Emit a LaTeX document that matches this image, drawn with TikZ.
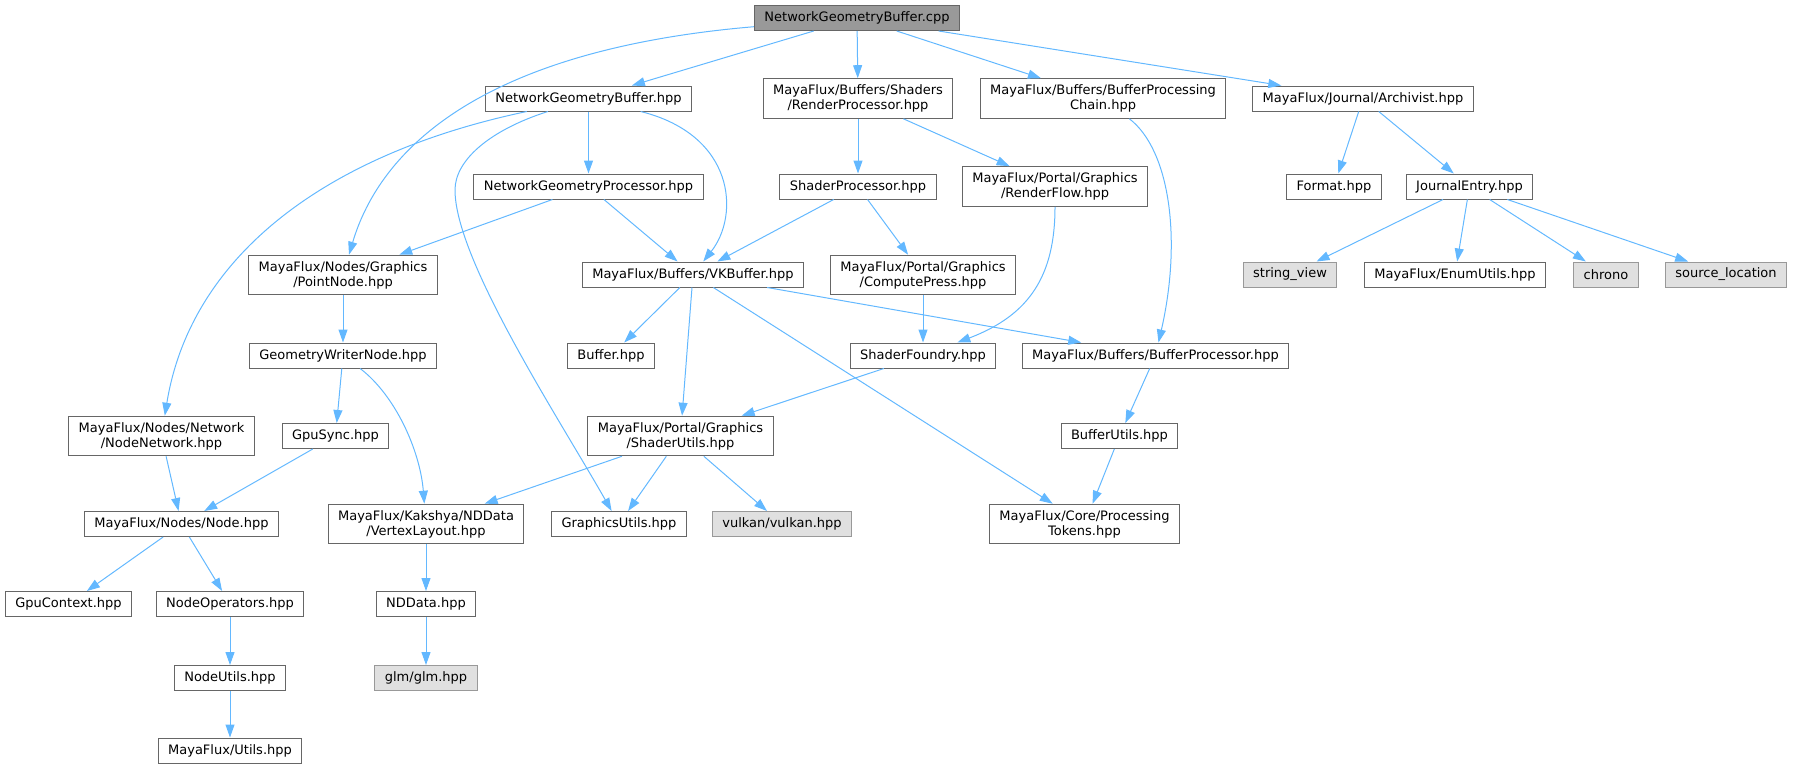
\documentclass[tikz,border=0pt]{standalone}
\usepackage{fontspec}
\setmainfont{DejaVu Sans}
\usepackage{tikz}
\usetikzlibrary{arrows.meta}
\definecolor{edgeblue}{HTML}{63B8FF}
\definecolor{boxgray}{HTML}{666666}
\definecolor{rootgray}{HTML}{999999}
\definecolor{sysgray}{HTML}{999999}
\definecolor{sysfill}{HTML}{E0E0E0}

\begin{document}
\begin{tikzpicture}[x=1pt,y=-1pt,->,>={Triangle[length=13pt,width=9pt]},
        font=\fontsize{13}{15}\selectfont,
        file/.style={rectangle,draw=boxgray,line width=1pt,fill=white,minimum height=25pt,
          inner xsep=10pt,inner ysep=6pt,align=center},
        root/.style={file,fill=rootgray},
        sys/.style={file,draw=sysgray,fill=sysfill},
        link/.style={draw=edgeblue,line width=1pt}]
		\useasboundingbox (0,0) rectangle (1793,769);
		\node [root] (1) at (857, 18) {NetworkGeometryBuffer.cpp};
		\node [file] (2) at (588.5, 98.5) {NetworkGeometryBuffer.hpp};
		\node [file] (24) at (858, 98.5) {MayaFlux/Buffers/Shaders\\/RenderProcessor.hpp};
		\node [file] (29) at (1103, 98.5) {MayaFlux/Buffers/BufferProcessing\\Chain.hpp};
		\node [file] (30) at (1363, 98.5) {MayaFlux/Journal/Archivist.hpp};
		\node [file] (3) at (588.5, 186.5) {NetworkGeometryProcessor.hpp};
		\node [file] (25) at (858, 186.5) {ShaderProcessor.hpp};
		\node [file] (28) at (1055, 186.5) {MayaFlux/Portal/Graphics\\/RenderFlow.hpp};
		\node [file] (31) at (1334, 186.5) {Format.hpp};
		\node [file] (32) at (1469.5, 186.5) {JournalEntry.hpp};
		\node [file] (4) at (343, 275) {MayaFlux/Nodes/Graphics\\/PointNode.hpp};
		\node [file] (15) at (693, 274.5) {MayaFlux/Buffers/VKBuffer.hpp};
		\node [file] (26) at (923, 275) {MayaFlux/Portal/Graphics\\/ComputePress.hpp};
		\node [sys] (33) at (1290, 274.5) {string\_view};
		\node [file] (34) at (1455, 274.5) {MayaFlux/EnumUtils.hpp};
		\node [sys] (35) at (1606, 274.5) {chrono};
		\node [sys] (36) at (1726, 274.5) {source\_location};
		\node [file] (5) at (343, 355.5) {GeometryWriterNode.hpp};
		\node [file] (16) at (611, 355.5) {Buffer.hpp};
		\node [file] (27) at (923, 355.5) {ShaderFoundry.hpp};
		\node [file] (21) at (1155.5, 355.5) {MayaFlux/Buffers/BufferProcessor.hpp};
		\node [file] (23) at (161.5, 436) {MayaFlux/Nodes/Network\\/NodeNetwork.hpp};
		\node [file] (6) at (335.5, 436) {GpuSync.hpp};
		\node [file] (17) at (680.5, 436) {MayaFlux/Portal/Graphics\\/ShaderUtils.hpp};
		\node [file] (22) at (1119.5, 436) {BufferUtils.hpp};
		\node [file] (7) at (181.5, 524) {MayaFlux/Nodes/Node.hpp};
		\node [file] (12) at (426, 524) {MayaFlux/Kakshya/NDData\\/VertexLayout.hpp};
		\node [file] (18) at (619, 524) {GraphicsUtils.hpp};
		\node [sys] (19) at (782, 524) {vulkan/vulkan.hpp};
		\node [file] (20) at (1084.5, 524) {MayaFlux/Core/Processing\\Tokens.hpp};
		\node [file] (8) at (68.5, 604) {GpuContext.hpp};
		\node [file] (9) at (230, 604) {NodeOperators.hpp};
		\node [file] (13) at (426, 604) {NDData.hpp};
		\node [file] (10) at (230, 678) {NodeUtils.hpp};
		\node [sys] (14) at (426, 678) {glm/glm.hpp};
		\node [file] (11) at (230, 750.5) {MayaFlux/Utils.hpp};
		\draw [link] (1) to (2);
		\draw [link] (1) to (24);
		\draw [link] (1) to (29);
		\draw [link] (1) to (30);
		\draw [link] (1) .. controls (480, 50) and (380, 150) .. (4);
		\draw [link] (2) to (3);
		\draw [link] (2) .. controls (320, 155) and (190, 260) .. (23);
		\draw [link] (2) .. controls (735, 135) and (740, 215) .. (15);
		\draw [link] (2) .. controls (490, 130) and (455, 160) .. (455, 190)
		    .. controls (455, 260) and (560, 420) .. (18);
		\draw [link] (3) to (4);
		\draw [link] (3) to (15);
		\draw [link] (24) to (25);
		\draw [link] (24) to (28);
		\draw [link] (25) to (15);
		\draw [link] (25) to (26);
		\draw [link] (28) .. controls (1055, 275) and (1030, 315) .. (27);
		\draw [link] (29) .. controls (1170, 150) and (1182, 240) .. (21);
		\draw [link] (30) to (31);
		\draw [link] (30) to (32);
		\draw [link] (32) to (33);
		\draw [link] (32) to (34);
		\draw [link] (32) to (35);
		\draw [link] (32) to (36);
		\draw [link] (4) to (5);
		\draw [link] (15) to (16);
		\draw [link] (15) to (17);
		\draw [link] (15) to (20);
		\draw [link] (15) to (21);
		\draw [link] (26) to (27);
		\draw [link] (5) to (6);
		\draw [link] (5) .. controls (395, 395) and (420, 450) .. (12);
		\draw [link] (27) to (17);
		\draw [link] (21) to (22);
		\draw [link] (23) to (7);
		\draw [link] (6) to (7);
		\draw [link] (17) to (12);
		\draw [link] (17) to (18);
		\draw [link] (17) to (19);
		\draw [link] (22) to (20);
		\draw [link] (7) to (8);
		\draw [link] (7) to (9);
		\draw [link] (12) to (13);
		\draw [link] (9) to (10);
		\draw [link] (10) to (11);
		\draw [link] (13) to (14);
\end{tikzpicture}
\end{document}
